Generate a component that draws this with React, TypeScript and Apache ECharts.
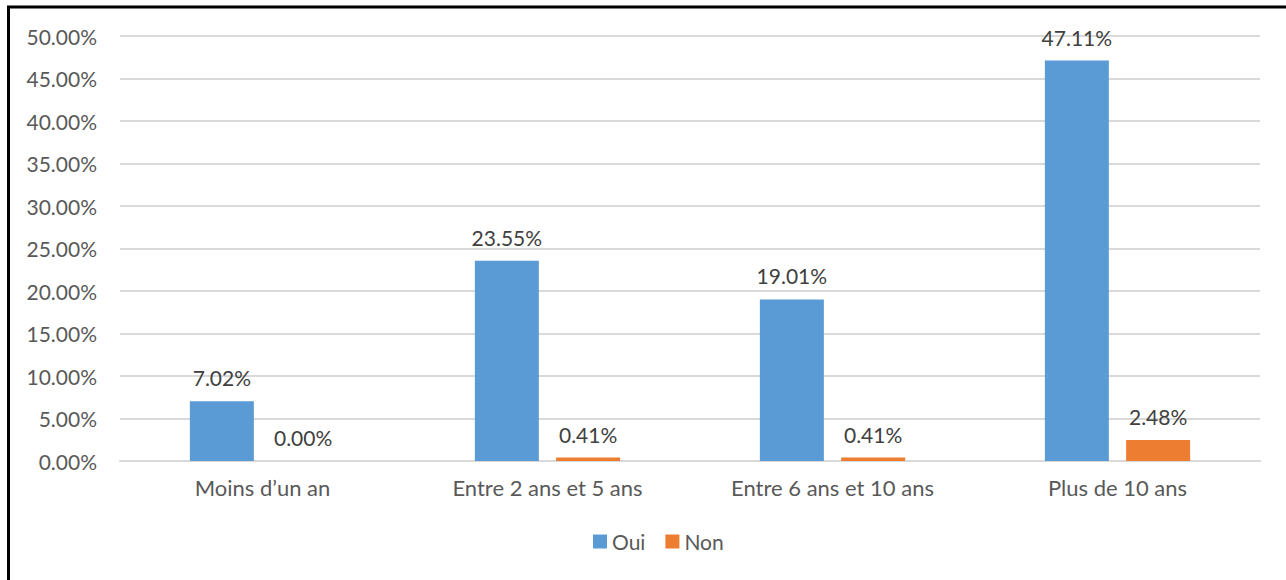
import React, { useEffect, useRef } from "react";
import * as echarts from "echarts";

const categories = ["Moins d\u2019un an", "Entre 2 ans et 5 ans", "Entre 6 ans et 10 ans", "Plus de 10 ans"];
const ouiValues = [7.02, 23.55, 19.01, 47.11];
const nonValues = [0.0, 0.41, 0.41, 2.48];
const seriesNames = ["Oui", "Non"];

const FONT = "Lato";
const TXT = "#595959";

export default function App() {
  const ref = useRef<HTMLDivElement>(null);
  useEffect(() => {
    if (!ref.current) return;
    const chart = echarts.init(ref.current, undefined, { renderer: "svg" });
    const fmt = (v: number) => v.toFixed(2) + "%";
    const label = {
      show: true,
      position: "top",
      distance: 13,
      color: "#404040",
      fontSize: 21,
      fontFamily: FONT,
      formatter: (p: any) => fmt(p.value),
    };
    chart.setOption({
      animation: false,
      backgroundColor: "#ffffff",
      textStyle: { fontFamily: FONT },
      grid: { left: 120, right: 26, top: 36, bottom: 119, containLabel: false },
      legend: {
        data: seriesNames,
        bottom: 23,
        left: 588,
        itemWidth: 14,
        itemHeight: 14,
        itemGap: 20,
        icon: "rect",
        textStyle: { color: TXT, fontSize: 21, fontFamily: FONT },
      },
      xAxis: {
        type: "category",
        data: categories,
        axisLine: { show: true, lineStyle: { color: "#d9d9d9", width: 2 } },
        axisTick: { show: false },
        axisLabel: { color: TXT, fontSize: 22, fontFamily: FONT, margin: 15 },
      },
      yAxis: {
        type: "value",
        min: 0,
        max: 50,
        interval: 5,
        axisLine: { show: false },
        axisTick: { show: false },
        splitLine: { lineStyle: { color: "#d9d9d9", width: 2 } },
        axisLabel: {
          color: TXT,
          fontSize: 21,
          fontFamily: FONT,
          margin: 23,
          formatter: (v: number) => v.toFixed(2) + "%",
        },
      },
      series: [
        {
          name: seriesNames[0],
          type: "bar",
          data: ouiValues,
          barWidth: 64,
          barGap: "27%",
          itemStyle: { color: "#5b9bd5" },
          label,
        },
        {
          name: seriesNames[1],
          type: "bar",
          data: nonValues,
          barWidth: 64,
          barGap: "27%",
          itemStyle: { color: "#ed7d31" },
          label,
        },
      ],
      graphic: [
        {
          type: "polyline",
          silent: true,
          shape: { points: [[8.5, 580], [8.5, 7], [1286, 7]] },
          style: { stroke: "#000", lineWidth: 3, fill: "none" },
        },
      ],
    });
    return () => chart.dispose();
  }, []);
  return (
    <div
      ref={ref}
      style={{ position: "fixed", left: 0, top: 0, width: 1286, height: 580, background: "#fff" }}
    />
  );
}
